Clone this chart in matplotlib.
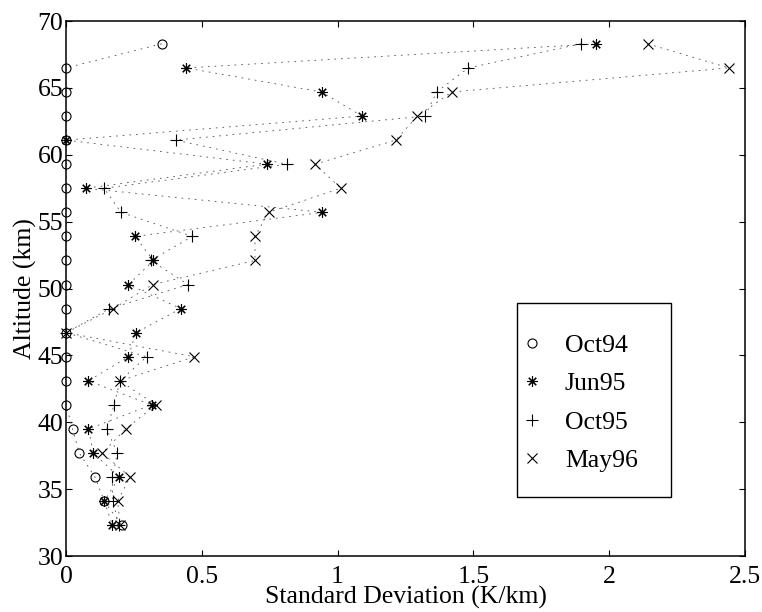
"""Standard deviation of temperature gradient vs altitude for four campaigns."""
import matplotlib
matplotlib.use("Agg")
import matplotlib.pyplot as plt
from matplotlib.patches import Rectangle

plt.rcParams["font.family"] = ["Liberation Serif", "DejaVu Serif"]

ALTITUDE = [68.3, 66.5, 64.7, 62.9, 61.1, 59.3, 57.5, 55.7, 53.9, 52.1, 50.3,
            48.5, 46.7, 44.9, 43.1, 41.3, 39.5, 37.7, 35.9, 34.1, 32.3]

OCT94 = [0.352, 0.0, 0.0, 0.0, 0.0, 0.0, 0.0, 0.0, 0.0, 0.0, 0.0,
         0.0, 0.0, 0.0, 0.0, 0.0, 0.024, 0.049, 0.107, 0.141, 0.205]
JUN95 = [1.950, 0.442, 0.941, 1.090, 0.0, 0.739, 0.072, 0.944, 0.254, 0.322, 0.230,
         0.423, 0.257, 0.230, 0.082, 0.315, 0.082, 0.101, 0.196, 0.141, 0.171]
OCT95 = [1.896, 1.481, 1.365, 1.322, 0.404, 0.812, 0.140, 0.203, 0.465, 0.312, 0.450,
         0.160, 0.0, 0.297, 0.199, 0.177, 0.150, 0.189, 0.171, 0.172, 0.195]
MAY96 = [2.142, 2.441, 1.420, 1.294, 1.214, 0.917, 1.012, 0.746, 0.696, 0.696, 0.319,
         0.174, 0.0, 0.472, 0.199, 0.330, 0.220, 0.134, 0.236, 0.190, 0.200]

SERIES = [("Oct94", OCT94, "o", 6.5),
          ("Jun95", JUN95, (8, 2, 0), 7.5),
          ("Oct95", OCT95, "+", 8.5),
          ("May96", MAY96, "x", 7.5)]

FS = 18.5

fig = plt.figure(figsize=(7.62, 6.12), dpi=100)
ax = fig.add_axes([0.0866, 0.0915, 0.891, 0.874])

for name, vals, mk, ms in SERIES:
    ax.plot(vals, ALTITUDE, linestyle=(0, (2, 6)), color="0.3", linewidth=0.6)
for name, vals, mk, ms in SERIES:
    ax.plot(vals, ALTITUDE, linestyle="none", marker=mk, markersize=ms,
            markerfacecolor="none", markeredgecolor="k", markeredgewidth=0.8,
            label=name, clip_on=False)

ax.set_xlim(0, 2.5)
ax.set_ylim(30, 70)
ax.set_xticks([0, 0.5, 1, 1.5, 2, 2.5])
ax.set_xticklabels(["0", "0.5", "1", "1.5", "2", "2.5"])
ax.set_yticks(range(30, 71, 5))
ax.tick_params(direction="in", length=4.5, width=0.8, top=True, right=True,
               labelsize=FS, pad=2)
ax.tick_params(axis="x", pad=7)
for sp in ax.spines.values():
    sp.set_linewidth(1.1)

ax.set_xlabel("Standard Deviation (K/km)", fontsize=FS, labelpad=-1)
ax.set_ylabel("Altitude (km)", fontsize=FS, labelpad=0)

leg = ax.legend(loc="upper left", bbox_to_anchor=(0.664, 0.430), frameon=False,
                fontsize=FS, handlelength=0.6, handletextpad=0.97,
                labelspacing=0.6, borderpad=0.3, borderaxespad=0)
ax.add_patch(Rectangle((0.664, 0.110), 0.227, 0.363, transform=ax.transAxes,
                       fill=False, edgecolor="k", linewidth=1.0, zorder=5))

fig.savefig("out.png", dpi=100)
